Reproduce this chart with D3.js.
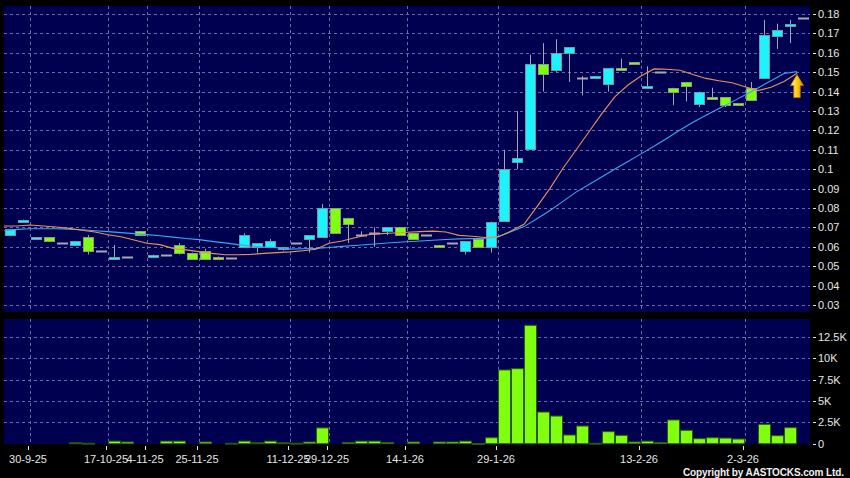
<!DOCTYPE html>
<html><head><meta charset="utf-8">
<script src="https://cdn.jsdelivr.net/npm/d3@7"></script>
<style>html,body{margin:0;padding:0;background:#000;}svg{display:block}</style>
</head><body><svg id="c" width="850" height="478"></svg>
<script>
// ---- data ----
const opens  = [.066,.073,.064,.065,.062,.061,.065,.058,.054,.055,.068,.055,.056,.061,.057,.058,.055,.054,.060,.060,.060,.059,.062,.064,.065,.080,.075,.066,.067,.068,.070,.067,.066,.061,.062,.058,.064,.060,.073,.104,.110,.154,.151,.160,.147,.147,.144,.152,.155,.142,.150,.142,.145,.134,.137,.137,.134,.142,.147,.169,.174,.178];
const highs  = [.069,.074,.065,.065,.062,.063,.066,.058,.061,.055,.068,.056,.056,.062,.057,.059,.055,.054,.067,.062,.064,.060,.062,.066,.082,.080,.075,.068,.070,.070,.070,.067,.066,.061,.062,.063,.064,.073,.110,.130,.159,.165,.167,.163,.148,.148,.152,.157,.155,.153,.150,.142,.145,.140,.142,.137,.134,.145,.177,.175,.177,.178];
const lows   = [.066,.073,.064,.063,.062,.061,.056,.058,.054,.055,.066,.055,.056,.056,.054,.054,.054,.054,.060,.057,.060,.058,.062,.057,.065,.067,.062,.066,.060,.066,.066,.064,.066,.060,.062,.056,.060,.057,.073,.100,.110,.140,.150,.145,.138,.147,.140,.151,.154,.142,.150,.133,.135,.132,.136,.132,.133,.136,.147,.162,.165,.178];
const closes = [.069,.074,.065,.063,.062,.063,.058,.058,.055,.055,.066,.056,.056,.057,.054,.054,.054,.054,.066,.062,.063,.060,.062,.066,.080,.067,.072,.066,.067,.070,.066,.064,.066,.060,.062,.063,.060,.073,.100,.106,.154,.149,.160,.163,.147,.148,.152,.151,.154,.143,.150,.140,.143,.140,.136,.133,.133,.136,.169,.172,.175,.178];
const volumesK = [0,0,0,0,0,0.1,0.05,0,0.3,0.2,0,0,0.3,0.3,0,0.2,0,0.05,0.3,0.1,0.3,0.1,0.05,0.2,1.85,0,0.15,0.3,0.3,0.15,0,0.2,0,0.2,0.2,0.3,0.02,0.7,8.64,8.79,13.87,3.71,3.24,1.02,2.07,0.05,1.41,0.98,0.2,0.3,0.15,2.78,1.57,0.59,0.7,0.66,0.55,0,2.27,0.94,1.88,0];
const maShort = [.0707,.0707,.0712,.0707,.0702,.0695,.0685,.0676,.0662,.0652,.0635,.0618,.0611,.0592,.0584,.0575,.0566,.0559,.0559,.0561,.0566,.0570,.0574,.0580,.0587,.0618,.0630,.0647,.0662,.0668,.0671,.0675,.0678,.0681,.0676,.0659,.0654,.0648,.0651,.0681,.0716,.0807,.0901,.1005,.1099,.1193,.1288,.1374,.1434,.1480,.1517,.1515,.1510,.1488,.1468,.1456,.1446,.1425,.1405,.1422,.1452,.1495];
const maLong  = [.0683,.0690,.0693,.0693,.0693,.0691,.0688,.0683,.0678,.0673,.0668,.0663,.0657,.0650,.0643,.0637,.0628,.0620,.0611,.0604,.0599,.0595,.0588,.0590,.0592,.0596,.0602,.0607,.0612,.0617,.0622,.0626,.0630,.0634,.0638,.0641,.0642,.0644,.0652,.0678,.0704,.0745,.0787,.0834,.0882,.0921,.0961,.1001,.1040,.1079,.1118,.1160,.1202,.1242,.1278,.1313,.1347,.1382,.1419,.1456,.1493,.1503];
const dateTickIdx = [2,8,11,15,22,25,31,38,49,57];
const dateTickLabels = ["30-9-25","17-10-25","4-11-25","25-11-25","11-12-25","29-12-25","14-1-26","29-1-26","13-2-26","2-3-26"];
const priceTicks = [0.03,0.04,0.05,0.06,0.07,0.08,0.09,0.1,0.11,0.12,0.13,0.14,0.15,0.16,0.17,0.18];
const volTicks = [0,2.5,5,7.5,10,12.5];
const volTickLabels = ["0","2.5K","5K","7.5K","10K","12.5K"];

// ---- layout ----
const W = 850, H = 478;
const L = 4, R = 810;
const pTop = 6, pBot = 312;
const vTop = 319, vBot = 444;
const FONT = "'Liberation Sans', Arial, sans-serif";
const PANEL = "#000050", GRID = "#6a6aa8", TXT = "#e6e6e6";

const svg = d3.select("#c");
svg.append("rect").attr("width", W).attr("height", H).attr("fill", "#000");

const n = closes.length;
const x = d3.scaleBand().domain(d3.range(n)).range([L, R]).paddingInner(0).paddingOuter(0);
const y = d3.scaleLinear().domain([0.03, 0.18]).range([305, 14]);
const yv = d3.scaleLinear().domain([0, 12.5]).range([443.7, 337]);

const defs = svg.append("defs");
defs.append("clipPath").attr("id", "pclip").append("rect").attr("x", L).attr("y", pTop).attr("width", R - L).attr("height", pBot - pTop);
const g = defs.append("linearGradient").attr("id", "arrowGrad").attr("x1", "0").attr("x2", "1").attr("y1", "0").attr("y2", "0");
g.append("stop").attr("offset", "0").attr("stop-color", "#fff6a0");
g.append("stop").attr("offset", "0.45").attr("stop-color", "#ffd21a");
g.append("stop").attr("offset", "1").attr("stop-color", "#e08a00");

// panels
svg.append("rect").attr("x", L).attr("y", pTop).attr("width", R - L).attr("height", pBot - pTop).attr("fill", PANEL);
svg.append("rect").attr("x", L).attr("y", vTop).attr("width", R - L).attr("height", vBot - vTop).attr("fill", PANEL);

// grids
const grid = svg.append("g").attr("stroke", GRID).attr("stroke-width", 1).attr("stroke-dasharray", "3,3");
grid.selectAll(".hp").data(priceTicks).join("line")
  .attr("x1", L).attr("x2", R).attr("y1", d => Math.round(y(d)) + 0.5).attr("y2", d => Math.round(y(d)) + 0.5);
grid.selectAll(".hv").data(volTicks.slice(1)).join("line").attr("class", "hv")
  .attr("x1", L).attr("x2", R).attr("y1", d => Math.round(yv(d)) + 0.5).attr("y2", d => Math.round(yv(d)) + 0.5);
grid.selectAll(".vp").data(dateTickIdx).join("line").attr("class", "vp")
  .attr("x1", d => x(d) + 0.5).attr("x2", d => x(d) + 0.5).attr("y1", pTop).attr("y2", pBot);
grid.selectAll(".vv").data(dateTickIdx).join("line").attr("class", "vv")
  .attr("x1", d => x(d) + 0.5).attr("x2", d => x(d) + 0.5).attr("y1", vTop).attr("y2", vBot);

// candles
const cg = svg.append("g").attr("clip-path", "url(#pclip)");
const idx = d3.range(n);
cg.selectAll(".wick").data(idx).join("line")
  .attr("x1", i => x(i) + 6.5).attr("x2", i => x(i) + 6.5)
  .attr("y1", i => y(highs[i])).attr("y2", i => y(lows[i]))
  .attr("stroke", "#a4a4b4").attr("stroke-width", 1);
const bodies = idx.filter(i => opens[i] !== closes[i]);
cg.selectAll(".body").data(bodies).join("rect")
  .attr("x", i => x(i) + 1.5)
  .attr("y", i => Math.round(y(Math.max(opens[i], closes[i]))) + 0.5)
  .attr("width", 10)
  .attr("height", i => Math.max(1, Math.round(Math.abs(y(opens[i]) - y(closes[i])))))
  .attr("fill", i => closes[i] > opens[i] ? "#1ef2fa" : "#80ff10")
  .attr("stroke", i => closes[i] > opens[i] ? "#6c9aac" : "#8c9c80")
  .attr("stroke-width", 1);
const dojis = idx.filter(i => opens[i] === closes[i]);
cg.selectAll(".doji").data(dojis).join("line")
  .attr("x1", i => x(i) + 1).attr("x2", i => x(i) + 12)
  .attr("y1", i => Math.round(y(closes[i])) + 0.5).attr("y2", i => Math.round(y(closes[i])) + 0.5)
  .attr("stroke", "#a8a8b0").attr("stroke-width", 2);

// moving averages
const line = d3.line().x((d, i) => x(i)).y(d => y(d));
cg.append("path").datum(maLong).attr("d", line).attr("fill", "none").attr("stroke", "#3aa6f0").attr("stroke-width", 1.1);
cg.append("path").datum(maShort).attr("d", line).attr("fill", "none").attr("stroke", "#e8915c").attr("stroke-width", 1.1);

// arrow under last MA point
const ax = x(n - 1), ay = y(maLong[n - 1]) + 3;
const arrow = [[ax, ay], [ax + 6.5, ay + 11], [ax + 3.2, ay + 11], [ax + 3.2, ay + 23], [ax - 3.2, ay + 23], [ax - 3.2, ay + 11], [ax - 6.5, ay + 11]];
svg.append("path").attr("d", "M" + arrow.map(p => p.join(",")).join("L") + "Z")
  .attr("fill", "url(#arrowGrad)").attr("stroke", "#c87800").attr("stroke-width", 0.8);

// volume bars
const vb = idx.filter(i => volumesK[i] > 0);
svg.append("g").selectAll("rect").data(vb).join("rect")
  .attr("x", i => x(i) + 0.5)
  .attr("y", i => yv(volumesK[i]))
  .attr("width", 12)
  .attr("height", i => Math.max(0.8, yv(0) - yv(volumesK[i])))
  .attr("fill", "#80ff10").attr("stroke", "#2d5a08").attr("stroke-width", 1);

// right axes
const ra = svg.append("g").attr("font-family", FONT).attr("font-size", 11).attr("fill", TXT);
ra.selectAll(".pt").data(priceTicks).join("line")
  .attr("x1", 813).attr("x2", 816).attr("y1", d => Math.round(y(d)) + 0.5).attr("y2", d => Math.round(y(d)) + 0.5)
  .attr("stroke", TXT);
ra.selectAll(".pl").data(priceTicks).join("text")
  .attr("x", 818).attr("y", d => y(d) + 4)
  .text(d => String(+d.toFixed(2)));
ra.selectAll(".vt").data(volTicks).join("line").attr("class", "vt")
  .attr("x1", 813).attr("x2", 816).attr("y1", d => Math.round(yv(d)) + 0.5).attr("y2", d => Math.round(yv(d)) + 0.5)
  .attr("stroke", TXT);
ra.selectAll(".vl").data(volTicks).join("text").attr("class", "vl")
  .attr("x", 818).attr("y", d => yv(d) + 4)
  .text((d, i) => volTickLabels[i]);

// bottom date axis
const ba = svg.append("g").attr("font-family", FONT).attr("font-size", 11).attr("fill", TXT);
ba.selectAll("line").data(dateTickIdx).join("line")
  .attr("x1", d => x(d) - 1.5).attr("x2", d => x(d) - 1.5).attr("y1", 446).attr("y2", 450)
  .attr("stroke", TXT);
ba.selectAll("text").data(dateTickIdx).join("text")
  .attr("x", d => x(d) - 2).attr("y", 463).attr("text-anchor", "middle")
  .text((d, i) => dateTickLabels[i]);

// copyright
svg.append("text").attr("x", 844).attr("y", 476).attr("text-anchor", "end")
  .attr("font-family", FONT).attr("font-size", 10).attr("font-weight", "bold").attr("fill", "#f0f0f0")
  .attr("textLength", 161).attr("lengthAdjust", "spacing")
  .text("Copyright by AASTOCKS.com Ltd.");
</script></body></html>
